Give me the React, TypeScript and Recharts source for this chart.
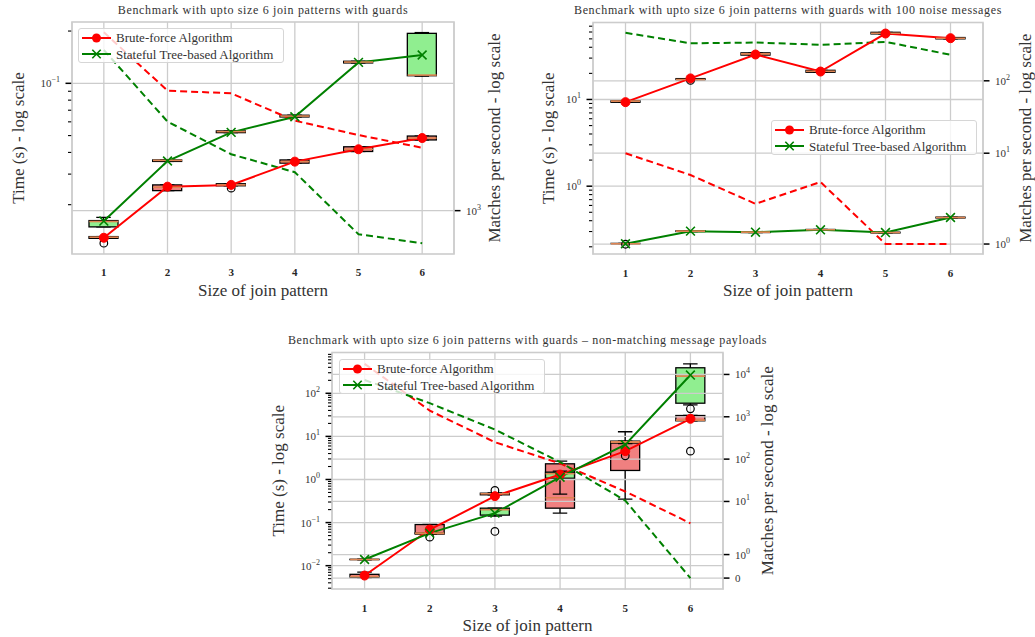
import React from 'react';
import { ComposedChart, XAxis, YAxis, Bar, Line, Scatter, ReferenceLine, CartesianGrid } from 'recharts';

const SERIF = '"Liberation Serif", "Times New Roman", serif';
const RED = '#ff0000';
const GREEN = '#008000';
const RED_FILL = '#f08080';
const GREEN_FILL = '#90ee90';
const MEDIAN = '#dd8452';
const GRID = '#cccccc';
const TEXT = '#333333';
const BOX_W = 29;

// ---------------- data ----------------
const patternSizes = [1, 2, 3, 4, 5, 6];
const legendLabels = ['Brute-force Algorithm', 'Stateful Tree-based Algorithm'];
const titles = [
  'Benchmark with upto size 6 join patterns with guards',
  'Benchmark with upto size 6 join patterns with guards with 100 noise messages',
  'Benchmark with upto size 6 join patterns with guards \u2013 non-matching message payloads',
];
const xAxisTitle = 'Size of join pattern';
const leftAxisTitle = 'Time (s) - log scale';
const rightAxisTitle = 'Matches per second - log scale';

// box stats: [lower whisker, Q1, median, Q3, upper whisker]  (time in s)
// Panel 1
const p1BruteBox = [
  [0.0128, 0.0128, 0.013, 0.0131, 0.0131],
  [0.0241, 0.0241, 0.0252, 0.026, 0.026],
  [0.0257, 0.0257, 0.026, 0.0264, 0.0264],
  [0.0347, 0.0347, 0.0354, 0.0362, 0.0362],
  [0.0405, 0.0405, 0.0417, 0.0431, 0.0431],
  [0.0472, 0.0472, 0.0484, 0.0497, 0.0497],
];
const p1BruteMean = [0.0129, 0.0254, 0.026, 0.0354, 0.0417, 0.0484];
const p1BruteFliers = [[0.012], [], [0.0249], [], [], []];
const p1TreeBox = [
  [0.0149, 0.0149, 0.016, 0.0162, 0.0169],
  [0.0355, 0.0355, 0.036, 0.0362, 0.0362],
  [0.052, 0.052, 0.0527, 0.0532, 0.0532],
  [0.064, 0.064, 0.0648, 0.0655, 0.0655],
  [0.131, 0.131, 0.1326, 0.134, 0.134],
  [0.11, 0.1106, 0.1115, 0.194, 0.196],
];
const p1TreeMean = [0.0161, 0.0357, 0.0522, 0.0642, 0.132, 0.1456];
const p1TreeFliers = [[], [], [], [], [], []];
const p1BruteRate = [8200, 4120, 3990, 2890, 2440, 2100];
const p1TreeRate = [6650, 2860, 1945, 1574, 757, 681];

// Panel 2
const p2BruteBox = [
  [9.28, 9.28, 9.56, 9.66, 9.66],
  [16.8, 16.8, 17.0, 17.4, 17.4],
  [32.5, 32.5, 33.6, 34.5, 34.5],
  [20.6, 20.6, 21.2, 21.7, 21.7],
  [57.0, 57.0, 58.1, 59.5, 59.5],
  [50.0, 50.0, 50.9, 51.8, 51.8],
];
const p2BruteMean = [9.31, 17.5, 33.0, 21.0, 57.6, 50.9];
const p2BruteFliers = [[], [16.6], [], [], [], []];
const p2TreeBox = [
  [0.215, 0.215, 0.217, 0.219, 0.219],
  [0.3, 0.3, 0.303, 0.306, 0.306],
  [0.292, 0.292, 0.295, 0.298, 0.298],
  [0.311, 0.311, 0.314, 0.317, 0.317],
  [0.289, 0.289, 0.292, 0.295, 0.295],
  [0.43, 0.43, 0.435, 0.44, 0.44],
];
const p2TreeMean = [0.217, 0.303, 0.295, 0.314, 0.292, 0.435];
const p2TreeFliers = [[0.214], [], [], [], [], []];
const p2BruteRate = [10, 5, 2, 4, 1, 1];
const p2TreeRate = [460, 330, 338, 314, 345, 229];

// Panel 3
const p3BruteBox = [
  [0.0052, 0.0053, 0.0056, 0.0063, 0.0071],
  [0.053, 0.054, 0.0558, 0.09, 0.091],
  [0.44, 0.441, 0.466, 0.481, 0.49],
  [0.166, 0.216, 0.376, 2.31, 2.66],
  [0.349, 1.62, 7.5, 7.74, 12.8],
  [23.0, 23.0, 23.8, 30.5, 30.5],
];
const p3BruteMean = [0.0059, 0.069, 0.41, 1.3, 4.54, 25.6];
const p3BruteFliers = [[], [0.0459], [0.556], [], [], [4.54]];
const p3TreeBox = [
  [0.0137, 0.0138, 0.0139, 0.0141, 0.0142],
  [0.056, 0.0565, 0.057, 0.0575, 0.058],
  [0.141, 0.149, 0.198, 0.216, 0.216],
  [0.456, 1.07, 1.36, 1.48, 1.56],
  [6.8, 7.0, 7.3, 7.6, 7.8],
  [54.1, 58.9, 250, 391, 483],
];
const p3TreeMean = [0.0139, 0.057, 0.1655, 1.13, 6.4, 265];
const p3TreeFliers = [[], [], [0.0622], [], [3.54], [43.7]];
const p3BruteRate = [17800, 1400, 251, 79, 17.2, 3.06];
const p3TreeRate = [7400, 2100, 500, 85, 10.5, 0];

// tick values and labels ([base, exponent])
const p1LeftTicks = [0.1];
const p1LeftLabels = [['10', '\u22121']];
const p1RightTicks = [1000];
const p1RightLabels = [['10', '3']];
const p2LeftTicks = [1, 10];
const p2LeftLabels = [['10', '0'], ['10', '1']];
const p2RightTicks = [1, 10, 100];
const p2RightLabels = [['10', '0'], ['10', '1'], ['10', '2']];
const p3LeftTicks = [0.01, 0.1, 1, 10, 100];
const p3LeftLabels = [['10', '\u22122'], ['10', '\u22121'], ['10', '0'], ['10', '1'], ['10', '2']];
const p3RightTicks = [0, 1, 10, 100, 1000, 10000];
const p3RightLabels = [['0', ''], ['10', '0'], ['10', '1'], ['10', '2'], ['10', '3'], ['10', '4']];

// ---------------- helpers ----------------
// matplotlib symlog (base 10, linthresh 2, linscale 1)
const LINTHRESH = 2;
const LINSCALE_ADJ = 1 / (1 - 1 / 10);
function symlog(v: number) {
  const a = Math.abs(v);
  if (a <= LINTHRESH) return v * LINSCALE_ADJ;
  return Math.sign(v) * LINTHRESH * (LINSCALE_ADJ + Math.log10(a / LINTHRESH));
}

function minorTicks(lo: number, hi: number) {
  const out: number[] = [];
  for (let d = Math.floor(Math.log10(lo)) - 1; d <= Math.ceil(Math.log10(hi)); d++) {
    for (let k = 2; k <= 9; k++) {
      const v = parseFloat((k * Math.pow(10, d)).toPrecision(6));
      if (v >= lo && v <= hi) out.push(v);
    }
  }
  return out;
}

function buildRows(bb: number[][], bm: number[], bf: number[][], tb: number[][], tm: number[], tf: number[][], br: number[], tr: number[]) {
  return patternSizes.map((x, i) => ({
    x,
    bruteWhisker: [bb[i][0], bb[i][4]],
    bruteBox: [bb[i][1], bb[i][3]],
    bruteMedian: bb[i][2],
    bruteMean: bm[i],
    bruteFlier: bf[i].length ? bf[i][0] : null,
    treeWhisker: [tb[i][0], tb[i][4]],
    treeBox: [tb[i][1], tb[i][3]],
    treeMedian: tb[i][2],
    treeMean: tm[i],
    treeFlier: tf[i].length ? tf[i][0] : null,
    bruteRate: symlog(br[i]),
    treeRate: symlog(tr[i]),
  }));
}

// ---------------- shapes ----------------
const WhiskerShape = (props: any) => {
  const { x, y, width, height } = props;
  if (x == null || y == null || isNaN(y) || isNaN(height)) return <g />;
  const top = Math.min(y, y + height);
  const bot = Math.max(y, y + height);
  const cx = x + width / 2;
  const cw = width / 4;
  return (
    <g>
      <line x1={cx} x2={cx} y1={top} y2={bot} stroke="#000" strokeWidth={1.3} />
      <line x1={cx - cw} x2={cx + cw} y1={top} y2={top} stroke="#000" strokeWidth={1.3} />
      <line x1={cx - cw} x2={cx + cw} y1={bot} y2={bot} stroke="#000" strokeWidth={1.3} />
    </g>
  );
};

const makeBoxShape = (fill: string) => (props: any) => {
  const { x, y, width, height } = props;
  if (x == null || y == null || isNaN(y) || isNaN(height)) return <g />;
  const top = Math.min(y, y + height);
  const h = Math.abs(height);
  return <rect x={x} y={top} width={width} height={h} fill={fill} stroke="#000" strokeWidth={1.3} />;
};
const RedBoxShape = makeBoxShape(RED_FILL);
const GreenBoxShape = makeBoxShape(GREEN_FILL);

const MedianShape = (props: any) => {
  const { cx, cy } = props;
  if (cx == null || cy == null || isNaN(cy)) return <g />;
  return <line x1={cx - BOX_W / 2} x2={cx + BOX_W / 2} y1={cy} y2={cy} stroke={MEDIAN} strokeWidth={1.6} />;
};

const FlierShape = (props: any) => {
  const { cx, cy } = props;
  if (cx == null || cy == null || isNaN(cy)) return <g />;
  return <circle cx={cx} cy={cy} r={3.8} fill="none" stroke="#000" strokeWidth={1.2} />;
};

const XDot = (props: any) => {
  const { cx, cy, index } = props;
  if (cx == null || cy == null) return <g key={index} />;
  const s = 4.4;
  return (
    <path
      key={index}
      d={`M${cx - s},${cy - s}L${cx + s},${cy + s}M${cx - s},${cy + s}L${cx + s},${cy - s}`}
      stroke={GREEN}
      strokeWidth={1.6}
      fill="none"
    />
  );
};

const AxisTick = (props: any) => {
  const { x = 0, y = 0, payload, side, majors, labels } = props;
  const v = payload ? payload.value : null;
  const i = majors.findIndex((m: number) => Math.abs(m - v) < 1e-9 * Math.max(1, Math.abs(m)));
  const major = i >= 0;
  const dir = side === 'left' ? -1 : 1;
  const len = major ? 6.5 : 4;
  return (
    <g>
      <line x1={x} x2={x + dir * len} y1={y} y2={y} stroke="#000" strokeWidth={major ? 1.5 : 1.1} />
      {major && (
        <text
          x={x + dir * 12}
          y={y + 4}
          textAnchor={side === 'left' ? 'end' : 'start'}
          fontFamily={SERIF}
          fontSize={11}
          fill={TEXT}
        >
          <tspan>{labels[i][0]}</tspan>
          {labels[i][1] ? (
            <tspan dy={-5} fontSize={8}>
              {labels[i][1]}
            </tspan>
          ) : null}
        </text>
      )}
    </g>
  );
};

const XTick = (props: any) => {
  const { x, y, payload } = props;
  return (
    <text x={x} y={y + 22} textAnchor="middle" fontFamily={SERIF} fontSize={11} fontWeight="bold" fill="#262626">
      {payload.value}
    </text>
  );
};

// ---------------- panels ----------------
type PanelCfg = {
  rect: { l: number; t: number; r: number; b: number };
  rows: any[];
  leftDomain: [number, number];
  leftMajors: number[];
  leftLabels: string[][];
  rightDomain: [number, number];
  rightMajors: number[];
  rightLabels: string[][];
  title: string;
  titleY: number;
  leftTitleX: number;
  rightTitleX: number;
  legend: { left: number; top: number };
};

const panels: PanelCfg[] = [
  {
    rect: { l: 72, t: 22, r: 454, b: 254 },
    rows: buildRows(p1BruteBox, p1BruteMean, p1BruteFliers, p1TreeBox, p1TreeMean, p1TreeFliers, p1BruteRate, p1TreeRate),
    leftDomain: [0.0104, 0.2255],
    leftMajors: p1LeftTicks,
    leftLabels: p1LeftLabels,
    rightDomain: [7.176, 9.553],
    rightMajors: p1RightTicks,
    rightLabels: p1RightLabels,
    title: titles[0],
    titleY: 14,
    leftTitleX: 23.5,
    rightTitleX: 500,
    legend: { left: 78, top: 28 },
  },
  {
    rect: { l: 593, t: 22.5, r: 983, b: 254 },
    rows: buildRows(p2BruteBox, p2BruteMean, p2BruteFliers, p2TreeBox, p2TreeMean, p2TreeFliers, p2BruteRate, p2TreeRate),
    leftDomain: [0.163, 76.2],
    leftMajors: p2LeftTicks,
    leftLabels: p2LeftLabels,
    rightDomain: [0.822, 7.217],
    rightMajors: p2RightTicks,
    rightLabels: p2RightLabels,
    title: titles[1],
    titleY: 14,
    leftTitleX: 554,
    rightTitleX: 1031,
    legend: { left: 771, top: 120 },
  },
  {
    rect: { l: 332, t: 352.5, r: 723, b: 589 },
    rows: buildRows(p3BruteBox, p3BruteMean, p3BruteFliers, p3TreeBox, p3TreeMean, p3TreeFliers, p3BruteRate, p3TreeRate),
    leftDomain: [0.0028, 861],
    leftMajors: p3LeftTicks,
    leftLabels: p3LeftLabels,
    rightDomain: [-0.539, 10.633],
    rightMajors: p3RightTicks,
    rightLabels: p3RightLabels,
    title: titles[2],
    titleY: 344,
    leftTitleX: 284,
    rightTitleX: 773,
    legend: { left: 339, top: 359 },
  },
];

const AXIS_W = 60;
const TOP_M = 10;
const X_H = 40;

function Panel({ cfg }: { cfg: PanelCfg }) {
  const { rect } = cfg;
  const width = rect.r - rect.l + 2 * AXIS_W;
  const height = rect.b - rect.t + TOP_M + X_H;
  const leftTicks = [...cfg.leftMajors, ...minorTicks(cfg.leftDomain[0], cfg.leftDomain[1])]
    .filter((v) => v >= cfg.leftDomain[0] && v <= cfg.leftDomain[1])
    .sort((a, b) => a - b);
  const rightTicks = cfg.rightMajors.map(symlog);
  return (
    <div style={{ position: 'absolute', left: rect.l - AXIS_W, top: rect.t - TOP_M, width, height }}>
      <ComposedChart
        width={width}
        height={height}
        data={cfg.rows}
        margin={{ top: TOP_M, right: 0, bottom: 0, left: 0 }}
        barGap={-BOX_W}
        barSize={BOX_W}
      >
        <CartesianGrid horizontal={false} vertical stroke={GRID} strokeWidth={1.3} />
        {cfg.leftMajors
          .filter((v) => v >= cfg.leftDomain[0] && v <= cfg.leftDomain[1])
          .map((v) => (
            <ReferenceLine key={'gl' + v} y={v} stroke={GRID} strokeWidth={1.3} />
          ))}
        {rightTicks
          .filter((v) => v >= cfg.rightDomain[0] && v <= cfg.rightDomain[1])
          .map((v) => (
            <ReferenceLine key={'gr' + v} yAxisId="right" y={v} stroke={GRID} strokeWidth={1.3} />
          ))}
        <XAxis
          dataKey="x"
          type="category"
          height={X_H}
          tickLine={false}
          axisLine={false}
          tickSize={0}
          tickMargin={0}
          interval={0}
          tick={<XTick />}
        />
        <YAxis
          scale="log"
          type="number"
          domain={cfg.leftDomain}
          allowDataOverflow
          ticks={leftTicks}
          interval={0}
          width={AXIS_W}
          tickLine={false}
          axisLine={false}
          tickSize={0}
          tickMargin={0}
          tick={(p: any) => <AxisTick {...p} side="left" majors={cfg.leftMajors} labels={cfg.leftLabels} />}
        />
        <YAxis
          yAxisId="right"
          orientation="right"
          type="number"
          domain={cfg.rightDomain}
          allowDataOverflow
          ticks={rightTicks.filter((v) => v >= cfg.rightDomain[0] && v <= cfg.rightDomain[1])}
          interval={0}
          width={AXIS_W}
          tickLine={false}
          axisLine={false}
          tickSize={0}
          tickMargin={0}
          tick={(p: any) => <AxisTick {...p} side="right" majors={rightTicks} labels={cfg.rightLabels} />}
        />
        <Bar dataKey="bruteWhisker" shape={WhiskerShape} isAnimationActive={false} />
        <Bar dataKey="bruteBox" shape={RedBoxShape} isAnimationActive={false} />
        <Bar dataKey="treeWhisker" shape={WhiskerShape} isAnimationActive={false} />
        <Bar dataKey="treeBox" shape={GreenBoxShape} isAnimationActive={false} />
        <Scatter dataKey="bruteMedian" shape={MedianShape} isAnimationActive={false} />
        <Scatter dataKey="treeMedian" shape={MedianShape} isAnimationActive={false} />
        <Scatter dataKey="bruteFlier" shape={FlierShape} isAnimationActive={false} />
        <Scatter dataKey="treeFlier" shape={FlierShape} isAnimationActive={false} />
        <Line
          dataKey="bruteRate"
          yAxisId="right"
          stroke={RED}
          strokeWidth={2}
          strokeDasharray="7 4"
          dot={false}
          activeDot={false}
          isAnimationActive={false}
        />
        <Line
          dataKey="treeRate"
          yAxisId="right"
          stroke={GREEN}
          strokeWidth={2}
          strokeDasharray="7 4"
          dot={false}
          activeDot={false}
          isAnimationActive={false}
        />
        <Line
          dataKey="bruteMean"
          stroke={RED}
          strokeWidth={2}
          dot={{ r: 4.5, fill: RED, stroke: RED, strokeWidth: 1 }}
          activeDot={false}
          isAnimationActive={false}
        />
        <Line
          dataKey="treeMean"
          stroke={GREEN}
          strokeWidth={2}
          dot={(p: any) => <XDot key={p.index} {...p} />}
          activeDot={false}
          isAnimationActive={false}
        />
      </ComposedChart>
    </div>
  );
}

function LegendBox({ left, top }: { left: number; top: number }) {
  return (
    <div
      style={{
        position: 'absolute',
        left,
        top,
        width: 206,
        height: 35,
        boxSizing: 'border-box',
        border: '1px solid #d6d6d6',
        borderRadius: 3,
        background: 'rgba(255,255,255,0.8)',
        fontFamily: SERIF,
        fontSize: 13,
        color: TEXT,
      }}
    >
      {legendLabels.map((label, i) => (
        <div
          key={label}
          style={{
            position: 'absolute',
            left: 3,
            top: 1 + i * 16.5,
            height: 15,
            display: 'flex',
            alignItems: 'center',
            whiteSpace: 'nowrap',
            lineHeight: '15px',
          }}
        >
          <svg width={29} height={14} style={{ display: 'block' }}>
            <line x1={0} x2={29} y1={7} y2={7} stroke={i === 0 ? RED : GREEN} strokeWidth={2} />
            {i === 0 ? (
              <circle cx={14.5} cy={7} r={4.5} fill={RED} />
            ) : (
              <path d="M10.3,2.8L18.7,11.2M10.3,11.2L18.7,2.8" stroke={GREEN} strokeWidth={1.6} />
            )}
          </svg>
          <span style={{ marginLeft: 5 }}>{label}</span>
        </div>
      ))}
    </div>
  );
}

function Overlay() {
  return (
    <svg width={1035} height={637} style={{ position: 'absolute', left: 0, top: 0, pointerEvents: 'none' }}>
      {panels.map((p, i) => {
        const { l, t, r, b } = p.rect;
        const cx = (l + r) / 2;
        const cy = (t + b) / 2;
        return (
          <g key={i}>
            <rect x={l} y={t} width={r - l} height={b - t} fill="none" stroke={GRID} strokeWidth={1.6} />
            <text x={cx} y={p.titleY} textAnchor="middle" fontFamily={SERIF} fontSize={12} letterSpacing={0.65} fill={TEXT}>
              {p.title}
            </text>
            <text x={cx} y={b + 41.5} textAnchor="middle" fontFamily={SERIF} fontSize={17} fill={TEXT}>
              {xAxisTitle}
            </text>
            <text
              x={p.leftTitleX}
              y={cy}
              transform={`rotate(-90 ${p.leftTitleX} ${cy})`}
              textAnchor="middle"
              fontFamily={SERIF}
              fontSize={17}
              fill={TEXT}
            >
              {leftAxisTitle}
            </text>
            <text
              x={p.rightTitleX}
              y={cy}
              transform={`rotate(-90 ${p.rightTitleX} ${cy})`}
              textAnchor="middle"
              fontFamily={SERIF}
              fontSize={17}
              fill={TEXT}
            >
              {rightAxisTitle}
            </text>
          </g>
        );
      })}
    </svg>
  );
}

export default function App() {
  return (
    <div style={{ position: 'absolute', left: 0, top: 0, width: 1035, height: 637, background: '#fff', overflow: 'hidden' }}>
      {panels.map((p, i) => (
        <Panel key={i} cfg={p} />
      ))}
      <Overlay />
      {panels.map((p, i) => (
        <LegendBox key={'lg' + i} left={p.legend.left} top={p.legend.top} />
      ))}
    </div>
  );
}
